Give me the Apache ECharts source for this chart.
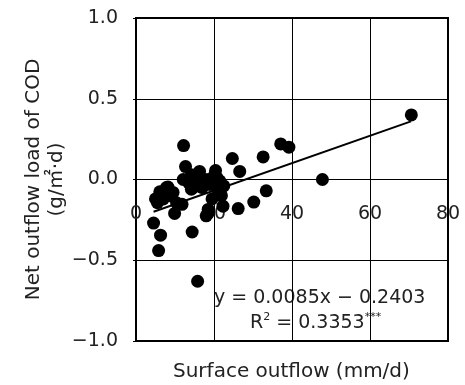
<!DOCTYPE html>
<html>
<head>
<meta charset="utf-8">
<script src="https://cdn.jsdelivr.net/npm/echarts@6/dist/echarts.min.js"></script>
<style>
  html, body { margin: 0; padding: 0; background: #fff; }
  #chart { width: 465px; height: 385px; }
</style>
</head>
<body>
<div id="chart"></div>
<script>
const FONT = '"DejaVu Sans", "Noto Sans CJK KR", sans-serif';

// surface outflow (mm/d)
const outflow = [
  12.2, 37.1, 39.2, 32.6, 24.7, 26.6, 12.7, 20.4, 12.1, 33.4,
  30.2, 26.2, 22.3, 4.5, 6.3, 5.8, 14.4, 15.8, 70.6, 47.8,
  9.9, 18.0, 18.6, 21.5, 6.1, 8.2, 5.5, 11.8, 14.6, 16.8,
  19.3, 21.5, 21.9, 18.5, 5.0, 7.8, 14.2, 18.6, 16.3, 21.5,
  21.0, 10.4, 8.6, 17.6, 18.9, 20.2, 14.2, 6.5, 13.5, 15.5,
  17.0, 20.8, 19.5, 22.5, 7.0, 9.5
];
// net outflow load of COD (g/m2/d)
const codLoad = [
  0.21, 0.22, 0.20, 0.14, 0.13, 0.05, 0.08, 0.055, 0.0, -0.07,
  -0.14, -0.18, -0.165, -0.27, -0.345, -0.44, -0.325, -0.63, 0.40, 0.0,
  -0.21, -0.225, -0.205, -0.09, -0.076, -0.047, -0.144, -0.154, -0.051, -0.01,
  -0.03, -0.072, -0.10, -0.185, -0.12, -0.05, 0.03, 0.0, 0.05, -0.01,
  -0.07, -0.144, -0.10, 0.0, -0.03, 0.03, -0.06, -0.10, -0.02, 0.02,
  -0.05, 0.01, -0.12, -0.04, -0.12, -0.08
];
// fitted line ends
const fitX = [4.5, 70.5];
const fitY = [-0.20, 0.36];

const xTicks = [0, 20, 40, 60, 80];
const yTicks = [-1.0, -0.5, 0.0, 0.5, 1.0];

const chart = echarts.init(document.getElementById('chart'));

// grid is 323 px tall; y = 0 sits half way, so pull the x axis up by that much
const gridTop = 18, gridBottom = 44;
const zeroOffset = -(385 - gridTop - gridBottom) / 2;

chart.setOption({
  animation: false,
  textStyle: { fontFamily: FONT },
  grid: {
    left: 136, right: 17, top: gridTop, bottom: gridBottom,
    show: true, borderColor: '#000', borderWidth: 2, backgroundColor: 'transparent'
  },
  xAxis: {
    type: 'value',
    min: xTicks[0], max: xTicks[xTicks.length - 1], interval: 20,
    offset: zeroOffset,
    axisLine: { show: true, onZero: false, lineStyle: { color: '#000', width: 1 } },
    axisTick: { show: false },
    splitLine: { show: true, lineStyle: { color: '#000', width: 1 } },
    axisLabel: { color: '#222', fontSize: 19, fontFamily: FONT, margin: 25 }
  },
  yAxis: {
    type: 'value',
    min: yTicks[0], max: yTicks[yTicks.length - 1], interval: 0.5,
    name: 'Net outflow load of COD\n(g/㎡·d)',
    nameLocation: 'middle',
    nameGap: 68,
    nameMoveOverlap: false,
    nameTextStyle: { color: '#222', fontSize: 20, fontFamily: FONT, lineHeight: 23 },
    axisLine: { show: false },
    axisTick: { show: true, inside: false, length: 3, lineStyle: { color: '#000' } },
    splitLine: { show: true, lineStyle: { color: '#000', width: 1 } },
    axisLabel: {
      color: '#222', fontSize: 19, fontFamily: FONT, margin: 18,
      formatter: v => v.toFixed(1).replace('-', '−')
    }
  },
  graphic: [
    {
      type: 'text', left: 173, top: 362,
      style: { text: 'Surface outflow (mm/d)', fill: '#222', font: '20px ' + FONT }
    },
    {
      type: 'text', left: 214, top: 289,
      style: { text: 'y = 0.0085x − 0.2403', fill: '#222', font: '19px ' + FONT }
    },
    {
      type: 'text', left: 250, top: 312,
      style: {
        text: 'R{sup|2} = 0.3353{sup|***}',
        fill: '#222', font: '19px ' + FONT,
        rich: { sup: { fontSize: 11, fontFamily: FONT, fill: '#222', padding: [0, 0, 12, 0] } }
      }
    }
  ],
  series: [
    {
      type: 'line',
      data: fitX.map((x, i) => [x, fitY[i]]),
      showSymbol: false,
      lineStyle: { color: '#000', width: 2 },
      z: 2
    },
    {
      type: 'scatter',
      data: outflow.map((x, i) => [x, codLoad[i]]),
      symbolSize: 13,
      itemStyle: { color: '#000', opacity: 1 },
      z: 3
    }
  ]
});
</script>
</body>
</html>
